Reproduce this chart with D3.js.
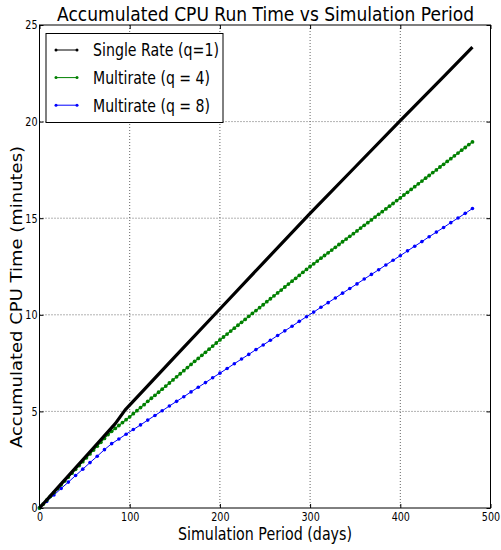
<!DOCTYPE html>
<html>
<head>
<meta charset="utf-8">
<script src="https://cdn.jsdelivr.net/npm/d3@7"></script>
<style>
  body { margin: 0; background: #fff; }
  text { font-family: "DejaVu Sans", sans-serif; }
</style>
</head>
<body>
<svg id="chart" width="501" height="550"></svg>
<script>

// single rate, read at the bends of the thick black line
var singleDays = [0, 20, 40, 60, 84, 95, 150, 200, 250, 300, 350, 400, 450, 480];
var singleVals = [0, 1.04, 2.08, 3.12, 4.37, 5.08, 7.82, 10.3, 12.78, 15.25, 17.65, 20.05, 22.42, 23.85];

// multirate q=4, one marker every 4 days
var q4Days = d3.range(0, 481, 4);
var q4Vals = [
  0, 0.2, 0.4, 0.6, 0.8, 1.0, 1.2, 1.4, 1.6, 1.8,
  2.0, 2.2, 2.4, 2.6, 2.8, 3.0, 3.2, 3.4, 3.6, 3.8,
  3.97, 4.12, 4.27, 4.42, 4.57, 4.72, 4.88, 5.04, 5.20, 5.35,
  5.52, 5.68, 5.83, 5.99, 6.15, 6.31, 6.47, 6.63, 6.79, 6.95,
  7.11, 7.27, 7.43, 7.59, 7.74, 7.90, 8.06, 8.22, 8.38, 8.54,
  8.70, 8.85, 9.00, 9.16, 9.31, 9.46, 9.61, 9.76, 9.92, 10.07,
  10.22, 10.37, 10.52, 10.68, 10.83, 10.98, 11.13, 11.28, 11.44, 11.59,
  11.74, 11.89, 12.04, 12.20, 12.35, 12.50, 12.64, 12.78, 12.93, 13.07,
  13.21, 13.35, 13.49, 13.64, 13.78, 13.92, 14.06, 14.20, 14.34, 14.49,
  14.63, 14.77, 14.91, 15.06, 15.20, 15.34, 15.48, 15.62, 15.76, 15.91,
  16.05, 16.20, 16.34, 16.49, 16.63, 16.78, 16.92, 17.07, 17.21, 17.36,
  17.50, 17.65, 17.79, 17.94, 18.08, 18.23, 18.37, 18.52, 18.66, 18.81,
  18.95
];

// multirate q=8, one marker every 8 days
var q8Days = d3.range(0, 481, 8);
var q8Vals = [
  0, 0.34, 0.67, 1.01, 1.34, 1.68, 2.01, 2.35, 2.68, 3.02,
  3.33, 3.57, 3.82, 4.06, 4.30, 4.55, 4.79, 5.03, 5.28, 5.52,
  5.76, 6.01, 6.25, 6.49, 6.74, 6.98, 7.22, 7.47, 7.71, 7.95,
  8.20, 8.44, 8.68, 8.93, 9.17, 9.41, 9.66, 9.90, 10.14, 10.39,
  10.63, 10.87, 11.12, 11.36, 11.60, 11.85, 12.09, 12.33, 12.58, 12.82,
  13.06, 13.31, 13.55, 13.79, 14.04, 14.28, 14.52, 14.77, 15.01, 15.25,
  15.50
];

var seriesNames = ["Single Rate (q=1)", "Multirate (q = 4)", "Multirate (q = 8)"];
var seriesColors = ["#000000", "#008000", "#0000ff"];

var xTicks = [0, 100, 200, 300, 400, 500];
var yTicks = [0, 5, 10, 15, 20, 25];

var svg = d3.select("#chart");
var pLeft = 39.5, pRight = 490.5, pTop = 25, pBottom = 508;

var x = d3.scaleLinear().domain([0, 500]).range([pLeft, pRight]);
var y = d3.scaleLinear().domain([0, 25]).range([pBottom, pTop]);

// grid
var grid = svg.append("g")
    .attr("stroke", "#666")
    .attr("stroke-width", 1)
    .attr("stroke-dasharray", "1,2");

grid.selectAll(".gx")
    .data(xTicks.slice(1, -1))
    .enter().append("line")
    .attr("x1", d => x(d)).attr("x2", d => x(d))
    .attr("y1", pTop).attr("y2", pBottom);

grid.selectAll(".gy")
    .data(yTicks.slice(1, -1))
    .enter().append("line")
    .attr("x1", pLeft).attr("x2", pRight)
    .attr("y1", d => y(d)).attr("y2", d => y(d));

// axes, ticks pointing inward on all four sides
var squeeze = 0.8;

var xAxis = svg.append("g")
    .attr("transform", "translate(0," + pBottom + ")")
    .call(d3.axisBottom(x).tickValues(xTicks).tickSize(-4).tickPadding(4));

svg.append("g")
    .attr("transform", "translate(0," + pTop + ")")
    .call(d3.axisTop(x).tickValues(xTicks).tickSize(-4).tickFormat(""));

var yAxis = svg.append("g")
    .attr("transform", "translate(" + pLeft + ",0)")
    .call(d3.axisLeft(y).tickValues(yTicks).tickSize(-4).tickPadding(2));

svg.append("g")
    .attr("transform", "translate(" + pRight + ",0)")
    .call(d3.axisRight(y).tickValues(yTicks).tickSize(-4).tickFormat(""));

svg.selectAll(".domain").remove();
svg.selectAll(".tick line").attr("stroke", "#000");

xAxis.selectAll("text")
    .attr("font-size", 12)
    .attr("fill", "#000")
    .attr("transform", "scale(" + squeeze + ",1)");

yAxis.selectAll("text")
    .attr("font-size", 12)
    .attr("fill", "#000")
    .attr("x", -2 / squeeze)
    .attr("transform", "scale(" + squeeze + ",1)");

// series
var line = d3.line().x(d => x(d[0])).y(d => y(d[1]));

var single = singleDays.map((d, i) => [d, singleVals[i]]);
var q4 = q4Days.map((d, i) => [d, q4Vals[i]]);
var q8 = q8Days.map((d, i) => [d, q8Vals[i]]);

svg.append("path")
    .datum(q8)
    .attr("d", line)
    .attr("fill", "none")
    .attr("stroke", seriesColors[2])
    .attr("stroke-width", 1);

svg.append("g").selectAll("circle")
    .data(q8)
    .enter().append("circle")
    .attr("cx", d => x(d[0]))
    .attr("cy", d => y(d[1]))
    .attr("r", 1.8)
    .attr("fill", seriesColors[2]);

svg.append("path")
    .datum(q4)
    .attr("d", line)
    .attr("fill", "none")
    .attr("stroke", seriesColors[1])
    .attr("stroke-width", 1.2);

svg.append("g").selectAll("circle")
    .data(q4)
    .enter().append("circle")
    .attr("cx", d => x(d[0]))
    .attr("cy", d => y(d[1]))
    .attr("r", 1.9)
    .attr("fill", seriesColors[1]);

svg.append("path")
    .datum(single)
    .attr("d", line)
    .attr("fill", "none")
    .attr("stroke", seriesColors[0])
    .attr("stroke-width", 3.2)
    .attr("stroke-linejoin", "round");

// frame
svg.append("rect")
    .attr("x", pLeft).attr("y", pTop)
    .attr("width", pRight - pLeft).attr("height", pBottom - pTop)
    .attr("fill", "none")
    .attr("stroke", "#000")
    .attr("stroke-width", 1);

// legend
var legend = svg.append("g");
legend.append("rect")
    .attr("x", 46).attr("y", 33.5)
    .attr("width", 177).attr("height", 89)
    .attr("fill", "#fff")
    .attr("stroke", "#000");

var legendWidths = [126, 117, 117];
var row = legend.selectAll(".row")
    .data(seriesNames)
    .enter().append("g")
    .attr("transform", (d, i) => "translate(0," + (50 + i * 27.6) + ")");

row.append("line")
    .attr("x1", 56).attr("x2", 77)
    .attr("stroke", (d, i) => seriesColors[i])
    .attr("stroke-width", 1);

row.selectAll("circle")
    .data((d, i) => [[56, i], [77, i]])
    .enter().append("circle")
    .attr("cx", d => d[0])
    .attr("r", 1.5)
    .attr("fill", d => seriesColors[d[1]]);

row.append("text")
    .attr("x", 93).attr("y", 6.3)
    .attr("font-size", 18)
    .attr("textLength", (d, i) => legendWidths[i])
    .attr("lengthAdjust", "spacingAndGlyphs")
    .text(d => d);

// titles
svg.append("text")
    .attr("x", 57).attr("y", 20.5)
    .attr("font-size", 20)
    .attr("textLength", 417)
    .attr("lengthAdjust", "spacingAndGlyphs")
    .text("Accumulated CPU Run Time vs Simulation Period");

svg.append("text")
    .attr("x", 178).attr("y", 540)
    .attr("font-size", 18.5)
    .attr("textLength", 174)
    .attr("lengthAdjust", "spacingAndGlyphs")
    .text("Simulation Period (days)");

svg.append("text")
    .attr("transform", "translate(22,297) rotate(-90) scale(1,0.85)")
    .attr("text-anchor", "middle")
    .attr("font-size", 18)
    .text("Accumulated CPU Time (minutes)");

</script>
</body>
</html>
